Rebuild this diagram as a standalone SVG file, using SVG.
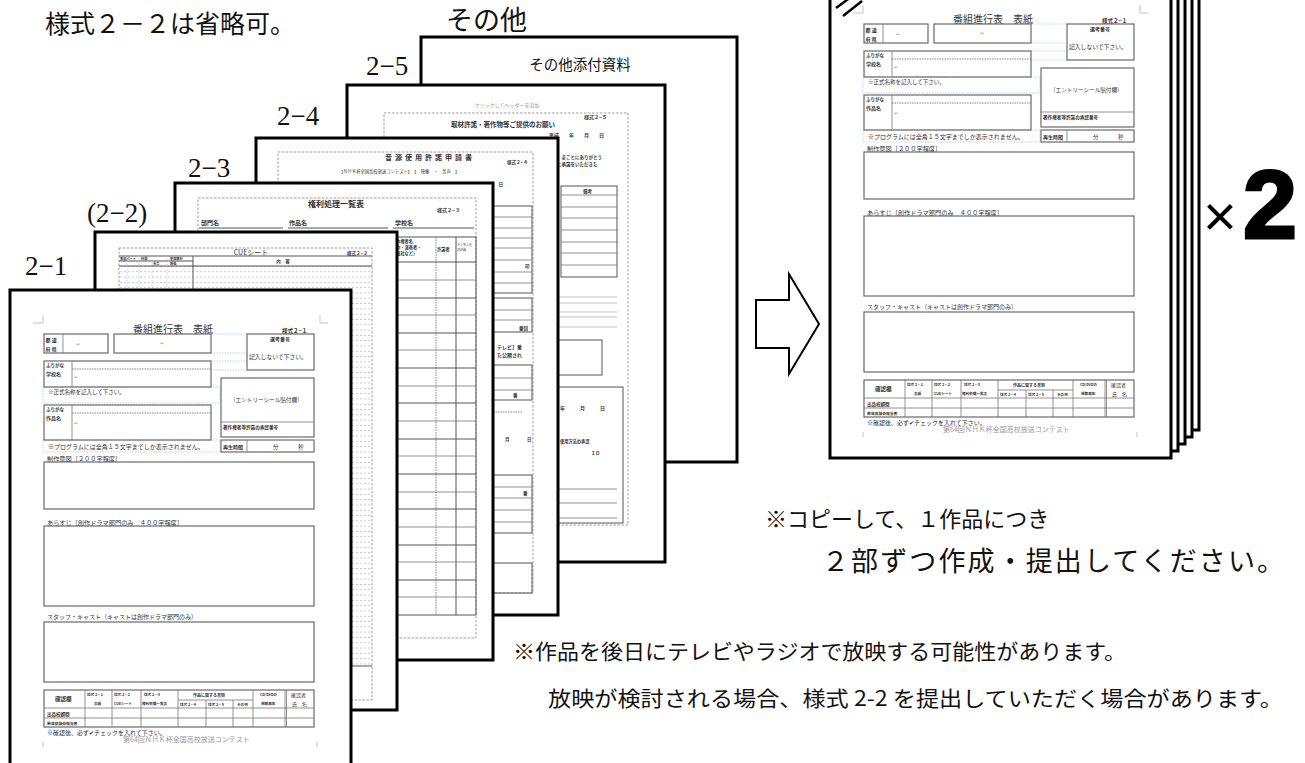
<svg xmlns="http://www.w3.org/2000/svg" width="1305" height="763" viewBox="0 0 1305 763">
<style>
.pg{fill:#fff;stroke:#000;stroke-width:3}
.bx{fill:none;stroke:#6a6a6a;stroke-width:1.2}
.ln{stroke:#777;stroke-width:.8;fill:none}
.lt{stroke:#aaa;stroke-width:.7;fill:none}
.dk{stroke:#555;stroke-width:1;fill:none}
.ds{fill:none;stroke:#888;stroke-width:.8;stroke-dasharray:2.5 1.5}
.dt{fill:none;stroke:#666;stroke-width:.8;stroke-dasharray:1.5 1}
.bl{fill:none;stroke:#a9c8ea;stroke-width:.8;stroke-dasharray:1.5 1.2}
.t{font-family:"Noto Sans CJK JP","Noto Sans",sans-serif;fill:#333}
.tb{font-family:"Noto Sans CJK JP","Noto Sans",sans-serif;fill:#333;font-weight:bold}
.g{fill:#999}
.lbl{font-family:"Liberation Serif","Noto Sans CJK JP",serif;font-size:27px;fill:#111}
.big{font-family:"Noto Sans CJK JP","Noto Sans",sans-serif;fill:#111}
</style>
<defs>
<pattern id="cueRows" patternUnits="userSpaceOnUse" x="0" y="266" width="4" height="5.3">
<rect x="0" y="0" width="2.2" height="0.6" fill="#aaa"/>
</pattern>
<g id="form21">
<path class="lt" d="M23,33H33V25M310,25V33H318"/>
<text class="t" x="163" y="43" font-size="10" text-anchor="middle">番組進行表　表紙</text>
<text class="tb" x="272" y="43" font-size="5.5">様式２−１</text>
<path class="bl" d="M201,44H237M201,63H237M201,71H237M201,80H237"/>
<rect class="bl" x="33" y="97" width="177" height="16"/>
<rect class="bl" x="33" y="150" width="177" height="12"/>
<rect class="bx" x="34" y="44" width="64" height="19"/>
<line class="ln" x1="53" y1="44" x2="53" y2="63"/>
<text class="tb" x="35.5" y="52" font-size="5">都 道</text>
<text class="tb" x="35.5" y="60.5" font-size="5">府 県</text>
<text class="t g" x="66" y="56" font-size="5">↵</text>
<rect class="bx" x="104" y="44" width="97" height="19"/>
<text class="t g" x="150" y="55" font-size="5">↵</text>
<rect class="bx" x="237" y="44" width="67" height="36"/>
<text class="tb" x="270" y="51" font-size="5" text-anchor="middle">選考番号</text>
<text class="t" x="239" y="69" font-size="5.8">記入しないで下さい。</text>
<rect class="bx" x="34" y="71" width="167" height="26"/>
<line class="ln" x1="62" y1="71" x2="62" y2="97"/>
<line class="dt" x1="62" y1="79" x2="201" y2="79"/>
<text class="tb" x="36" y="77" font-size="4.5">ふりがな</text>
<text class="tb" x="36" y="86" font-size="5">学校名</text>
<text class="t g" x="64" y="89" font-size="5">↵</text>
<text class="t" x="38" y="104" font-size="5.5">※正式名称を記入して下さい。</text>
<rect class="bx" x="211" y="88" width="93" height="59"/>
<line class="ln" x1="211" y1="132" x2="304" y2="132"/>
<text class="t" x="220" y="112" font-size="5.6">（エントリーシール貼付欄）</text>
<text class="tb" x="213" y="139" font-size="4.6">著作権者等許諾の承認番号</text>
<rect class="bx" x="34" y="115" width="167" height="35"/>
<line class="ln" x1="62" y1="115" x2="62" y2="150"/>
<line class="dt" x1="62" y1="123" x2="201" y2="123"/>
<text class="tb" x="36" y="121" font-size="4.5">ふりがな</text>
<text class="tb" x="36" y="130" font-size="5">作品名</text>
<text class="t g" x="64" y="135" font-size="5">↵</text>
<text class="t" x="38" y="159" font-size="6">※プログラムには全角１５文字までしか表示されません。</text>
<rect class="bx" x="211" y="150" width="93" height="12"/>
<line class="ln" x1="237" y1="150" x2="237" y2="162"/>
<text class="tb" x="213" y="158.5" font-size="5">再生時間</text>
<text class="t" x="263" y="158.5" font-size="5.5">分</text>
<text class="t" x="288" y="158.5" font-size="5.5">秒</text>
<text class="t" x="37" y="170.5" font-size="6.2">制作意図［２００字程度］</text>
<rect class="bx" x="34" y="172" width="270" height="47"/>
<text class="t" x="37" y="235" font-size="6.2">あらすじ［創作ドラマ部門のみ　４００字程度］</text>
<rect class="bx" x="34" y="236" width="270" height="80"/>
<text class="t" x="37" y="329" font-size="6">スタッフ・キャスト（キャストは創作ドラマ部門のみ）</text>
<rect class="bx" x="34" y="332" width="270" height="60"/>
<rect class="bx" x="34" y="400" width="270" height="37"/>
<path class="ln" d="M34,418H304M34,428H304M168,410H243M75,400V437M102,400V437M131,400V437M168,400V437M196,410V437M223,410V437M243,400V437M275,400V437"/>
<line x1="276.5" y1="400" x2="276.5" y2="437" stroke="#777" stroke-width=".8"/>
<text class="tb" x="45" y="411" font-size="5.5">確認欄</text>
<text class="tb" x="77" y="406" font-size="3.6">様式２−１</text>
<text class="tb" x="84" y="415" font-size="3.6">表紙</text>
<text class="tb" x="104" y="406" font-size="3.6">様式２−２</text>
<text class="tb" x="104" y="415" font-size="3.6">CUEシート</text>
<text class="tb" x="134" y="406" font-size="3.6">様式２−３</text>
<text class="tb" x="132" y="415" font-size="3.6">権利処理一覧表</text>
<text class="tb" x="183" y="407" font-size="4">作品に関する書類</text>
<text class="tb" x="170" y="416" font-size="3.6">様式２−４</text>
<text class="tb" x="198" y="416" font-size="3.6">様式２−５</text>
<text class="tb" x="227" y="416" font-size="3.6">その他</text>
<text class="tb" x="250" y="406" font-size="3.6">CD/DVDの</text>
<text class="tb" x="251" y="415" font-size="3.6">視聴再生</text>
<text class="t" x="281" y="407" font-size="5">確認者</text>
<text class="t" x="282" y="416" font-size="5">氏　名</text>
<text class="tb" x="37" y="426" font-size="4.5">出品校顧問</text>
<text class="tb" x="37" y="435" font-size="3.8">放送協議会担当者</text>
<text class="t" x="37" y="445" font-size="6">※確認後、必ず✔チェックを入れて下さい。</text>
<text class="t g" x="113" y="452" font-size="7">第64回ＮＨＫ杯全国高校放送コンテスト</text>
<path class="lt" d="M33,452V457M307,452V457"/>
</g>
</defs>

<g id="title">
<text class="big" x="45" y="33" font-size="25">様式２－２は省略可。</text>
</g>

<g id="labels">
<text class="lbl" x="446" y="30" font-family="Noto Sans CJK JP, sans-serif" font-size="24" fill="#222">その他</text>
<text class="lbl" x="366" y="75">2−5</text>
<text class="lbl" x="277" y="125">2−4</text>
<text class="lbl" x="188" y="177">2−3</text>
<text class="lbl" x="87" y="222">(2−2)</text>
<text class="lbl" x="25" y="275">2−1</text>
</g>

<g id="page-other">
<rect class="pg" x="421" y="37" width="316" height="425"/>
<text class="big" x="580" y="70" font-size="14.5" text-anchor="middle" fill="#222">その他添付資料</text>
</g>

<g id="page-2-5">
<rect class="pg" x="347" y="85" width="318" height="477"/>
<text class="t g" x="507" y="107" font-size="5" text-anchor="middle">クリックしてヘッダーを追加</text>
<rect class="ds" x="384" y="113" width="244" height="412"/>
<text class="tb" x="584" y="119" font-size="5">様式２−５</text>
<text class="tb" x="451" y="127" font-size="6.5">取材許諾・著作物等ご提供のお願い</text>
<text class="tb" x="549" y="137" font-size="5">平成　　年　　月　　日</text>
<text class="tb" x="557" y="159" font-size="4.5">、まことにありがとう</text>
<text class="tb" x="557" y="166" font-size="4.5">に承諾をいただきた</text>
<rect class="dk" x="561" y="186" width="56" height="91"/>
<path class="ln" d="M561,195H617M561,207H617M561,218H617M561,230H617M561,242H617M561,253H617M561,265H617"/>
<text class="tb" x="583" y="193" font-size="4.5">備考</text>
<path class="lt" d="M558,297H617M558,303H617M558,312H617M558,317H617M558,327H617"/>
<rect class="dk" x="545" y="340" width="57" height="35"/>
<rect class="dk" x="540" y="387" width="83" height="136"/>
<text class="tb" x="560" y="410" font-size="5">年　　　月　　　日</text>
<text class="tb" x="560" y="443" font-size="4.2">使用方法の承認</text>
<text class="tb" x="591" y="455" font-size="4.5">ＩＤ</text>
<path class="ln" d="M558,489H617M558,503H617M558,518H617"/>
</g>

<g id="page-2-4">
<rect class="pg" x="256" y="138" width="302" height="477"/>
<rect class="ds" x="278" y="152" width="255" height="441"/>
<text class="tb" x="385" y="160" font-size="7" letter-spacing="3">音源使用許諾申請書</text>
<text class="tb" x="507" y="164" font-size="4.5">様式２−４</text>
<text class="t" x="339" y="173" font-size="4.3">【ＮＨＫ杯全国高校放送コンテスト】　【　映像　・　音声　】</text>
<text class="tb" x="431" y="186" font-size="4.5">申込日　平成　　　年　　月　　日</text>
<rect class="dk" x="470" y="206" width="62" height="87"/>
<path class="ln" d="M470,217H532M470,228H532M470,238H532M470,248H532M470,260H532M470,272H532M470,283H532"/>
<text class="tb" x="525" y="268" font-size="4.5">印</text>
<rect class="dk" x="470" y="298" width="62" height="34"/>
<path class="ln" d="M470,310H532M470,320H532"/>
<text class="tb" x="519" y="330" font-size="4.5">番回</text>
<text class="tb" x="497" y="349" font-size="5">テレビ】番</text>
<text class="tb" x="497" y="357" font-size="5">た公開され</text>
<rect class="dk" x="470" y="365" width="62" height="35"/>
<path class="ln" d="M470,378H532M470,390H532"/>
<text class="tb" x="513" y="397" font-size="4.5">番</text>
<path class="dt" d="M493,412H523"/>
<text class="tb" x="505" y="441" font-size="4.5">月</text>
<text class="tb" x="527" y="441" font-size="4.5">日</text>
<rect class="dk" x="470" y="475" width="62" height="58"/>
<path class="ln" d="M470,487H532M470,498H532M470,510H532M470,522H532"/>
<text class="tb" x="523" y="495" font-size="4.5">番</text>
<rect class="dk" x="470" y="563" width="62" height="30"/>
</g>

<g id="page-2-3">
<rect class="pg" x="175" y="183" width="318" height="477"/>
<rect class="ds" x="198" y="198" width="278" height="440"/>
<text class="tb" x="308" y="207" font-size="8">権利処理一覧表</text>
<text class="tb" x="437" y="212" font-size="5">様式２−３</text>
<text class="tb" x="201" y="225" font-size="6">部門名</text>
<text class="tb" x="289" y="225" font-size="6">作品名</text>
<text class="tb" x="395" y="225" font-size="6">学校名</text>
<path class="dk" d="M199,228H283M288,228H388M393,228H474"/>
<rect class="dk" x="198" y="237" width="278" height="378"/>
<path class="dk" d="M198,262H476M456,237V615"/>
<path class="dt" d="M436,237V615"/>
<text class="tb" x="392" y="243" font-size="4.2">原作権者名</text>
<text class="tb" x="392" y="249" font-size="4.2">（作・演奏者・</text>
<text class="tb" x="392" y="255" font-size="4.2">出版社など）</text>
<text class="tb" x="437" y="251" font-size="4.2">許諾者</text>
<text class="t" x="457" y="246" font-size="3" fill="#777">デジタル化</text>
<text class="t" x="457" y="251" font-size="3" fill="#777">の許諾</text>
<path class="ln" d="M198,280H476M198,315H476M198,350H476M198,386H476M198,421H476M198,456H476M198,492H476M198,527H476M198,562H476M198,597H476"/>
<path class="dk" d="M198,298H476M198,333H476M198,368H476M198,403H476M198,439H476M198,474H476M198,509H476M198,545H476M198,580H476"/>
</g>

<g id="page-2-2">
<rect class="pg" x="95" y="232" width="302" height="478"/>
<rect class="ds" x="119" y="248" width="253" height="452"/>
<line class="dk" x1="119" y1="256" x2="372" y2="256"/>
<text class="t" x="251" y="255" font-size="7" text-anchor="middle">CUEシート</text>
<text class="tb" x="347" y="255" font-size="4.5">様式２−２</text>
<rect x="119" y="266" width="253" height="400" fill="url(#cueRows)"/>
<path class="dk" d="M119,266H372M119,261H193M193,256V666M119,666H372"/>
<path class="bl" d="M127,261V666M139,256V666M152,261V666M167,256V666"/>
<text class="tb" x="120" y="260" font-size="3.2">番組パート</text>
<text class="tb" x="141" y="260" font-size="3.2">時間</text>
<text class="tb" x="170" y="260" font-size="3.2">使用機材</text>
<text class="tb" x="153" y="265" font-size="3.2">音声</text>
<text class="tb" x="170" y="265" font-size="3.2">映像</text>
<text class="tb" x="283" y="263" font-size="4.5" text-anchor="middle">内　容</text>
</g>

<g id="page-2-1">
<rect class="pg" x="10" y="290" width="341" height="490"/>
<use href="#form21" transform="translate(10,290)"/>
</g>

<g id="arrow">
<polygon points="756,300 789,300 789,274 819,324 789,374 789,348 756,348" fill="#fff" stroke="#000" stroke-width="2"/>
</g>

<g id="copies">
<rect class="pg" x="858" y="-58" width="341" height="488"/>
<rect class="pg" x="851" y="-51" width="341" height="488"/>
<rect class="pg" x="844" y="-44" width="341" height="488"/>
<rect class="pg" x="837" y="-37" width="341" height="488"/>
<rect class="pg" x="830" y="-30" width="341" height="488"/>
<use href="#form21" transform="translate(830,-20)"/>
<path d="M836,8L851,-3M843,16L862,1" stroke="#000" stroke-width="2.5" fill="none"/>
</g>

<g id="times2">
<text x="1203" y="236" font-family="Liberation Sans, sans-serif" font-size="58" fill="#000">×</text>
<text x="1243" y="238" font-family="Liberation Sans, sans-serif" font-weight="bold" font-size="97" fill="#000" stroke="#000" stroke-width="3">2</text>
</g>

<g id="notes">
<text class="big" x="765" y="527" font-size="22">※コピーして、１作品につき</text>
<text class="big" x="822" y="571" font-size="27" textLength="462" lengthAdjust="spacing">２部ずつ作成・提出してください。</text>
<text class="big" x="513" y="659" font-size="21" textLength="613" lengthAdjust="spacingAndGlyphs">※作品を後日にテレビやラジオで放映する可能性があります。</text>
<text class="big" x="548" y="706" font-size="21" textLength="735" lengthAdjust="spacingAndGlyphs">放映が検討される場合、様式 2-2 を提出していただく場合があります。</text>
</g>
</svg>
